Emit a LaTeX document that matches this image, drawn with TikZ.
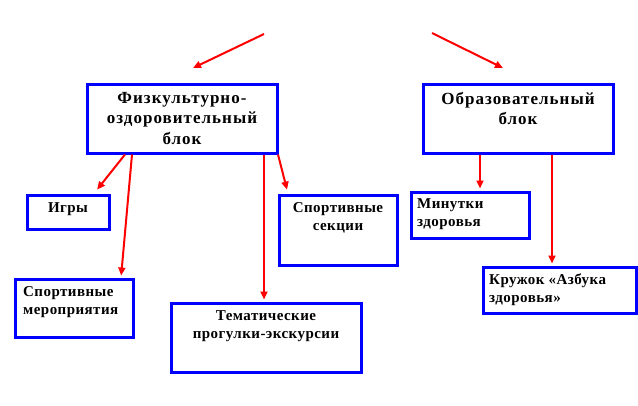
\documentclass[tikz,border=0pt]{standalone}
\usepackage{fontspec}
\setmainfont{Liberation Serif}
\newfontfamily\shirokiy[LetterSpace=6]{Liberation Serif}
\newfontfamily\melkiyshrift[LetterSpace=3]{Liberation Serif}
\usepackage{xcolor}
\definecolor{blokblue}{RGB}{0,0,255}
\definecolor{strelred}{RGB}{255,0,0}
\usetikzlibrary{arrows.meta}

\begin{document}
\begin{tikzpicture}[x=1pt,y=-1pt,
  blok/.style={draw=blokblue, line width=3pt, rectangle, inner sep=0pt, anchor=north west},
  nadpis/.style={inner sep=0pt, font=\shirokiy\bfseries\fontsize{17}{20.5}\selectfont, align=center, anchor=north},
  melkiy/.style={inner sep=0pt, font=\melkiyshrift\bfseries\fontsize{15}{18}\selectfont},
  strelka/.style={draw=strelred, line width=2pt, -{Triangle[length=8pt,width=7pt]}}]
  \useasboundingbox (0,0) rectangle (638,405);
  %\draw[blokblue!20] (0,0) rectangle (638,405);

  \node[blok, minimum width=190, minimum height=69] (fiz) at (85.5,82.5) {};
  \node[blok, minimum width=190, minimum height=69] (obr) at (421.5,82.5) {};
  \node[blok, minimum width=82, minimum height=34] (igry) at (25.5,193.5) {};
  \node[blok, minimum width=118, minimum height=70] (sek) at (277.5,193.5) {};
  \node[blok, minimum width=118, minimum height=46] (min) at (409.5,190.5) {};
  \node[blok, minimum width=153, minimum height=46] (kru) at (481.5,265.5) {};
  \node[blok, minimum width=118, minimum height=58] (mer) at (13.5,277.5) {};
  \node[blok, minimum width=190, minimum height=69] (tem) at (169.5,301.5) {};

  \node[nadpis] (fizt) at ([yshift=-9.5]fiz.north) {Физкультурно-\\оздоровительный\\блок};
  \node[nadpis] (obrt) at ([yshift=-9.5]obr.north) {Образовательный\\блок};
  \node[melkiy, anchor=north] (igryt) at ([yshift=-8.5]igry.north) {Игры};
  \node[melkiy, align=center, anchor=north] (sekt) at ([yshift=-9]sek.north) {Спортивные\\секции};
  \node[melkiy, align=left, anchor=north west] (mint) at ([shift={(7.5pt,-7.5pt)}]min.north west) {Минутки\\здоровья};
  \node[melkiy, align=left, anchor=north west] (krut) at ([shift={(7.5pt,-8.5pt)}]kru.north west) {Кружок «Азбука\\здоровья»};
  \node[melkiy, align=left, anchor=north west] (mert) at ([shift={(9.5pt,-8.5pt)}]mer.north west) {Спортивные\\мероприятия};
  \node[melkiy, align=center, anchor=north] (temt) at ([yshift=-8.5]tem.north) {Тематические\\прогулки-экскурсии};

  \coordinate (v1) at (264,34);
  \coordinate (v1e) at (193,68);
  \coordinate (v2) at (432,33);
  \coordinate (v2e) at (503,68);
  \path[strelka] (v1) -- (v1e);
  \path[strelka] (v2) -- (v2e);

  \path[strelka, shorten >=5] ([xshift=39.5]fiz.south west) -- ([xshift=68.5]igry.north west);
  \path[strelka, shorten >=2] ([xshift=46.5]fiz.south west) -- ([xshift=107.5]mer.north west);
  \path[strelka, shorten >=2] ([xshift=178.5]fiz.south west) -- ([xshift=94.5]tem.north west);
  \path[strelka, shorten >=4] ([xshift=-0.5]fiz.south east) -- ([xshift=10.5]sek.north west);
  \path[strelka, shorten >=2] ([xshift=58.5]obr.south west) -- ([xshift=70.5]min.north west);
  \path[strelka, shorten >=2] ([xshift=130.5]obr.south west) -- ([xshift=70.5]kru.north west);
\end{tikzpicture}
\end{document}
